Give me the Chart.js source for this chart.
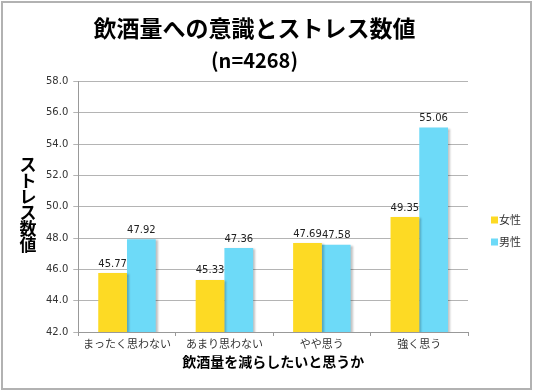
<!DOCTYPE html>
<html>
<head>
<meta charset="utf-8">
<script src="https://cdn.jsdelivr.net/npm/chart.js@4"></script>
<style>
  html, body { margin: 0; padding: 0; background: #fff; }
  #wrap { position: relative; width: 533px; height: 391px; }
  #frame { position: absolute; left: 1px; top: 1px; width: 527px; height: 385px;
           border: 2px solid #b2b2b2; pointer-events: none; }
</style>
</head>
<body>
<div id="wrap">
  <canvas id="grafico" width="533" height="391"></canvas>
  <div id="frame"></div>
</div>
<script>
const categorias = ['まったく思わない', 'あまり思わない', 'やや思う', '強く思う'];
const valoresFemale = [45.77, 45.33, 47.69, 49.35];
const valoresMale = [47.92, 47.36, 47.58, 55.06];
const rotulos = ['女性', '男性'];
const cores = ['#fdda24', '#6ddaf8'];

const fonteJP = '"Noto Sans CJK JP", sans-serif';
const fonteNum = '"DejaVu Sans", sans-serif';

// sombra nas barras, rótulos de valor, título vertical e legenda
const extras = {
    id: 'extras',
    beforeDatasetsDraw(chart) {
        const ctx = chart.ctx;
        ctx.save();
        ctx.shadowColor = 'rgba(0,0,0,0.25)';
        ctx.shadowOffsetX = 2;
        ctx.shadowOffsetY = 1;
        ctx.shadowBlur = 2;
    },
    afterDatasetsDraw(chart) {
        const ctx = chart.ctx;
        ctx.restore();
        ctx.save();
        ctx.font = '10px ' + fonteNum;
        ctx.fillStyle = '#222';
        ctx.textAlign = 'center';
        ctx.textBaseline = 'bottom';
        chart.data.datasets.forEach((ds, i) => {
            chart.getDatasetMeta(i).data.forEach((bar, j) => {
                ctx.fillText(ds.data[j].toFixed(2), bar.x, bar.y - 4);
            });
        });
        ctx.restore();
    },
    afterDraw(chart) {
        const ctx = chart.ctx;
        ctx.save();
        // título do eixo y, letras empilhadas
        ctx.font = 'bold 17px ' + fonteJP;
        ctx.fillStyle = '#000';
        ctx.textAlign = 'center';
        ctx.textBaseline = 'middle';
        const titulo = 'ストレス数値';
        for (let k = 0; k < titulo.length; k++) {
            ctx.fillText(titulo[k], 28, 165 + k * 16);
        }
        // legenda
        ctx.font = '11px ' + fonteJP;
        ctx.textAlign = 'left';
        chart.data.datasets.forEach((ds, i) => {
            const y = 220 + i * 22;
            ctx.fillStyle = ds.backgroundColor;
            ctx.fillRect(491, y - 3.5, 7, 7);
            ctx.fillStyle = '#333';
            ctx.fillText(ds.label, 499, y);
        });
        ctx.restore();
    }
};

const ctx = document.getElementById('grafico').getContext('2d');
new Chart(ctx, {
    type: 'bar',
    data: {
        labels: categorias,
        datasets: [
            { label: rotulos[0], data: valoresFemale, backgroundColor: cores[0] },
            { label: rotulos[1], data: valoresMale, backgroundColor: cores[1] }
        ]
    },
    options: {
        responsive: false,
        animation: false,
        layout: { padding: { left: 41, right: 65, top: 0, bottom: 21 } },
        datasets: { bar: { categoryPercentage: 0.59, barPercentage: 1.0 } },
        plugins: {
            legend: { display: false },
            tooltip: { enabled: false },
            title: {
                display: true,
                text: '飲酒量への意識とストレス数値',
                color: '#000',
                font: { family: fonteJP, size: 23, weight: 'bold', lineHeight: 1.2 },
                padding: { top: 14, bottom: 4 }
            },
            subtitle: {
                display: true,
                text: '(n=4268)',
                color: '#000',
                font: { family: fonteJP, size: 20, weight: 'bold', lineHeight: 1.2 },
                padding: { top: 3, bottom: 9 }
            }
        },
        scales: {
            x: {
                offset: true,
                grid: { offset: true, drawOnChartArea: false, color: '#999', tickLength: 4 },
                border: { color: '#999' },
                ticks: { color: '#333', font: { family: fonteJP, size: 11 }, padding: 1, maxRotation: 0 },
                title: {
                    display: true,
                    text: '飲酒量を減らしたいと思うか',
                    color: '#000',
                    font: { family: fonteJP, size: 14, weight: 'bold' },
                    padding: { top: 2, bottom: 0 }
                }
            },
            y: {
                min: 42,
                max: 58,
                grid: { color: '#b4b4b4', tickLength: 5 },
                border: { color: '#999' },
                ticks: {
                    stepSize: 2,
                    color: '#333',
                    font: { family: fonteNum, size: 10 },
                    padding: 5,
                    callback: v => v.toFixed(1)
                }
            }
        }
    },
    plugins: [extras]
});
</script>
</body>
</html>
